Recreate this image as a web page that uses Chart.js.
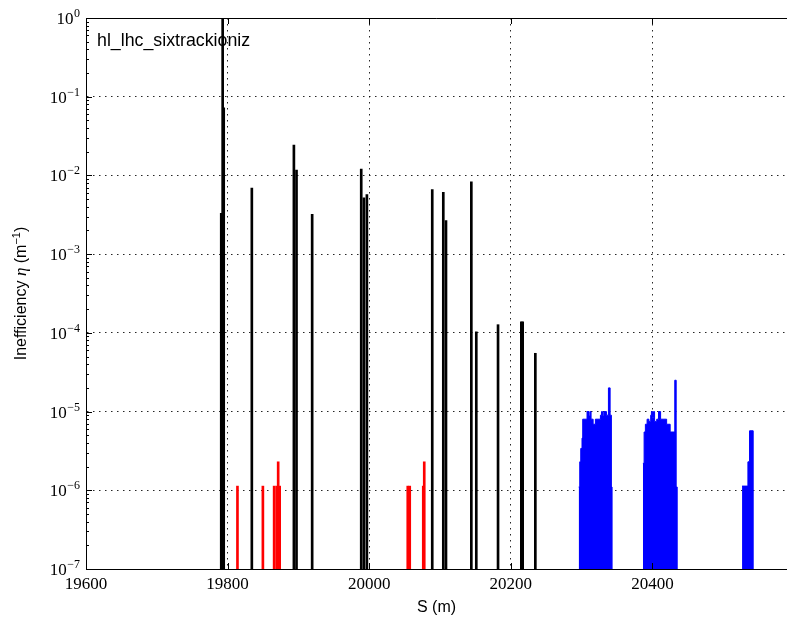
<!DOCTYPE html>
<html>
<head>
<meta charset="utf-8">
<script src="https://cdn.jsdelivr.net/npm/chart.js@4/dist/chart.umd.min.js"></script>
<style>
  html, body { margin: 0; padding: 0; background: #fff; }
</style>
</head>
<body>
<canvas id="chart" width="787" height="625"></canvas>
<script>
// ---- data: S (m) and inefficiency eta (1/m) ----
// collimators (black)
const collS   = [19791, 19793, 19794.5, 19834.2, 19893.6, 19897.3, 19919.4, 19988.7, 19992.5, 19996.7,
                 20089, 20104.6, 20108.4, 20144.2, 20151.2, 20181.9, 20214.8, 20216.7, 20234.6];
const collEta = [3.3e-3, 1.0, 7.2e-2, 6.9e-3, 2.43e-2, 1.17e-2, 3.2e-3, 1.2e-2, 5.2e-3, 5.7e-3,
                 6.6e-3, 6.1e-3, 2.66e-3, 8.3e-3, 1.03e-4, 1.27e-4, 1.38e-4, 1.38e-4, 5.5e-5];
// warm elements (red)
const warmS   = [19813.9, 19849.8, 19865.7, 19869.3, 19871.4, 19873.5, 20054.4, 20057.2, 20076.3, 20077.7];
const warmEta = [1.13e-6, 1.13e-6, 1.13e-6, 1.13e-6, 2.3e-6, 1.13e-6, 1.13e-6, 1.13e-6, 1.13e-6, 2.3e-6];
// cold elements (blue), three loss clusters, step profiles (last value closes the block)
const cold1S   = [20295.8, 20297.3, 20298.7, 20300.5, 20301.5, 20307.6, 20310.5, 20312, 20313.3, 20316.2,
                  20319.4, 20326.5, 20328, 20329.5, 20331.2, 20335, 20337.8, 20340.2, 20342, 20343];
const cold1Eta = [1.1e-6, 2.3e-6, 3.4e-6, 4.6e-6, 8.0e-6, 1.0e-5, 8.8e-6, 1.0e-5, 8.0e-6, 6.9e-6,
                  8.0e-6, 9.0e-6, 1.0e-5, 8.8e-6, 1.0e-5, 9.0e-6, 2.0e-5, 9.0e-6, 1.1e-6, 1e-7];
const cold2S   = [20386.5, 20388.2, 20390, 20392.4, 20395, 20397.5, 20398.5, 20400, 20401.5, 20403,
                  20406, 20408.5, 20411.5, 20415, 20420, 20425, 20431.5, 20433.5, 20435];
const cold2Eta = [2.2e-6, 5.5e-6, 6.9e-6, 8.0e-6, 7.5e-6, 9.0e-6, 1.0e-5, 8.5e-6, 1.0e-5, 7.5e-6,
                  8.0e-6, 1.0e-5, 8.0e-6, 8.0e-6, 6.9e-6, 5.5e-6, 2.5e-5, 1.1e-6, 1e-7];
const cold3S   = [20526.5, 20534.8, 20537.1, 20542.3];
const cold3Eta = [1.13e-6, 2.3e-6, 5.7e-6, 1e-7];

const xTicks = [19600, 19800, 20000, 20200, 20400];
const yExp   = [-7, -6, -5, -4, -3, -2, -1, 0];
const label  = 'hl_lhc_sixtrackioniz';

const pts = (s, v) => s.map((x, i) => ({ x: x, y: v[i] }));

const gridStyle = { color: 'rgba(0,0,0,0.85)', lineWidth: 1, drawTicks: false, offset: false };

const decor = {
  id: 'decor',
  afterDraw(chart) {
    const { ctx, chartArea: a, scales: { x, y } } = chart;
    ctx.save();
    ctx.strokeStyle = '#000';
    ctx.lineWidth = 1;
    // top spine
    ctx.beginPath();
    ctx.moveTo(a.left, a.top + 0.5); ctx.lineTo(a.right, a.top + 0.5);
    ctx.stroke();
    // inward ticks
    ctx.beginPath();
    xTicks.forEach(v => {
      const px = Math.round(x.getPixelForValue(v)) + 0.5;
      ctx.moveTo(px, a.bottom); ctx.lineTo(px, a.bottom - 6);
      ctx.moveTo(px, a.top); ctx.lineTo(px, a.top + 6);
    });
    yExp.forEach(e => {
      const py = Math.round(y.getPixelForValue(Math.pow(10, e))) + 0.5;
      ctx.moveTo(a.left, py); ctx.lineTo(a.left + 6, py);
      if (e < 0) {
        for (let m = 2; m <= 9; m++) {
          const pm = Math.round(y.getPixelForValue(m * Math.pow(10, e))) + 0.5;
          ctx.moveTo(a.left, pm); ctx.lineTo(a.left + 3, pm);
        }
      }
    });
    ctx.stroke();

    ctx.fillStyle = '#000';
    // y tick labels 10^n
    yExp.forEach(e => {
      const py = y.getPixelForValue(Math.pow(10, e));
      const ex = e < 0 ? '\u2212' + (-e) : String(e);
      ctx.font = '12px "Liberation Serif"';
      const ew = ctx.measureText(ex).width;
      ctx.textAlign = 'left';
      ctx.textBaseline = 'alphabetic';
      ctx.fillText(ex, 80 - ew, py - 1);
      ctx.font = '17px "Liberation Serif"';
      ctx.textAlign = 'right';
      ctx.fillText('10', 80 - ew - 0.5, py + 6);
    });

    // annotation
    ctx.font = '17.8px "Liberation Sans"';
    ctx.textAlign = 'left';
    ctx.textBaseline = 'alphabetic';
    ctx.fillText(label, 97, 46);

    // x title
    ctx.font = '16px "Liberation Sans"';
    ctx.textAlign = 'center';
    ctx.fillText('S (m)', (a.left + a.right) / 2, 612);

    // y title
    ctx.save();
    ctx.translate(26, (a.top + a.bottom) / 2);
    ctx.rotate(-Math.PI / 2);
    const parts = [
      { t: 'Inefficiency ', f: '16px "Liberation Sans"', dy: 0 },
      { t: '\u03B7', f: 'italic 17px "Liberation Serif"', dy: 0 },
      { t: ' (m', f: '16px "Liberation Sans"', dy: 0 },
      { t: '\u22121', f: '11px "Liberation Sans"', dy: -6 },
      { t: ')', f: '16px "Liberation Sans"', dy: 0 }
    ];
    let tot = 0;
    parts.forEach(p => { ctx.font = p.f; p.w = ctx.measureText(p.t).width; tot += p.w; });
    let cx = -tot / 2;
    ctx.textAlign = 'left';
    parts.forEach(p => { ctx.font = p.f; ctx.fillText(p.t, cx, p.dy); cx += p.w; });
    ctx.restore();
    ctx.restore();
  }
};

new Chart(document.getElementById('chart'), {
  type: 'bar',
  data: {
    datasets: [
      { type: 'line', data: pts(cold1S, cold1Eta), stepped: true, fill: 'start',
        borderColor: '#0000ff', backgroundColor: '#0000ff', borderWidth: 1, pointRadius: 0 },
      { type: 'line', data: pts(cold2S, cold2Eta), stepped: true, fill: 'start',
        borderColor: '#0000ff', backgroundColor: '#0000ff', borderWidth: 1, pointRadius: 0 },
      { type: 'line', data: pts(cold3S, cold3Eta), stepped: true, fill: 'start',
        borderColor: '#0000ff', backgroundColor: '#0000ff', borderWidth: 1, pointRadius: 0 },
      { data: pts(warmS, warmEta), backgroundColor: '#ff0000', barThickness: 2, grouped: false },
      { data: pts(collS, collEta), backgroundColor: '#000000', barThickness: 2, grouped: false }
    ]
  },
  options: {
    responsive: false,
    animation: false,
    devicePixelRatio: 1,
    layout: { padding: { top: 18, right: 0, left: 0, bottom: 0 } },
    plugins: { legend: { display: false }, tooltip: { enabled: false } },
    scales: {
      x: {
        type: 'linear', min: 19600, max: 20590, offset: false, z: 1,
        afterBuildTicks: s => { s.ticks = xTicks.map(v => ({ value: v })); },
        afterFit: s => { s.height = 56; },
        grid: gridStyle,
        border: { display: true, color: '#000', width: 1, dash: [1.5, 4.5] },
        ticks: { color: '#000', padding: 5, maxRotation: 0, font: { family: 'Liberation Serif', size: 17 },
                 callback: v => String(v) }
      },
      y: {
        type: 'logarithmic', min: 1e-7, max: 1, z: 1,
        afterBuildTicks: s => { s.ticks = yExp.map(e => ({ value: Math.pow(10, e) })); },
        afterFit: s => { s.width = 86; },
        grid: gridStyle,
        border: { display: true, color: '#000', width: 1, dash: [1.5, 4.5] },
        ticks: { display: false }
      }
    }
  },
  plugins: [decor]
});
</script>
</body>
</html>
